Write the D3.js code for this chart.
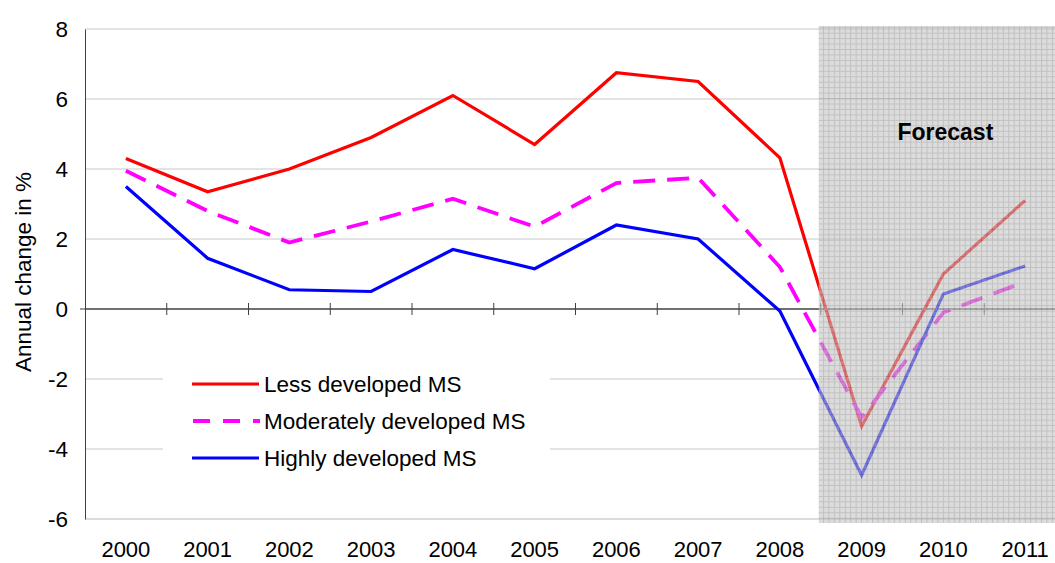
<!DOCTYPE html>
<html lang="en">
<head>
<meta charset="UTF-8">
<title>Annual change in %</title>
<script src="https://d3js.org/d3.v7.min.js"></script>
<style>
    body { margin: 0; background: white; font-family: "Liberation Sans", Arial, sans-serif; }
    svg { display: block; }
    .tick-label { font-size: 22.5px; fill: #000; }
    .legend-text { font-size: 22.5px; fill: #000; }
</style>
</head>
<body>
<svg width="1055" height="563"></svg>
<script>
    const years = ["2000", "2001", "2002", "2003", "2004", "2005", "2006", "2007", "2008", "2009", "2010", "2011"];
    const lessDeveloped = [4.3, 3.35, 4.0, 4.9, 6.1, 4.7, 6.75, 6.5, 4.32, -3.35, 1.0, 3.1];
    const moderatelyDeveloped = [3.95, 2.8, 1.9, 2.5, 3.15, 2.35, 3.6, 3.75, 1.2, -3.1, -0.1, 0.78];
    const highlyDeveloped = [3.5, 1.45, 0.55, 0.5, 1.7, 1.15, 2.4, 2.0, -0.06, -4.75, 0.43, 1.23];
    const yTicks = [-6, -4, -2, 0, 2, 4, 6, 8];
    const forecastFrom = "2009";

    const series = [
        { name: "Less developed MS", values: lessDeveloped, color: "#ff0000", dash: null, w: 3.2 },
        { name: "Moderately developed MS", values: moderatelyDeveloped, color: "#ff00ff", dash: "22,12", w: 3.8 },
        { name: "Highly developed MS", values: highlyDeveloped, color: "#0000ff", dash: null, w: 3.2 }
    ];

    const svg = d3.select("svg");
    const plotLeft = 85, plotTop = 29, plotBottom = 519;
    const band = 81.75;

    const x = d3.scaleBand().domain(years).range([plotLeft, plotLeft + band * years.length]);
    const y = d3.scaleLinear().domain([-6, 8]).range([plotBottom, plotTop]);
    const cx = d => x(d) + x.bandwidth() / 2;

    // pattern for forecast area
    const defs = svg.append("defs");
    const pat = defs.append("pattern")
        .attr("id", "grid")
        .attr("patternUnits", "userSpaceOnUse")
        .attr("width", 5.45).attr("height", 5.45);
    pat.append("rect").attr("width", 5.45).attr("height", 5.45).attr("fill", "#c6c6c6");
    pat.append("path").attr("d", "M0,0.5H5.45M0.5,0V5.45")
        .attr("stroke", "#9a9a9a").attr("stroke-width", 1);

    // gridlines
    svg.append("g")
        .selectAll("line")
        .data(yTicks.filter(d => d !== 0))
        .join("line")
        .attr("x1", plotLeft).attr("x2", 1055)
        .attr("y1", d => y(d)).attr("y2", d => y(d))
        .attr("stroke", d => d === -6 ? "#dcdcdc" : "#c8c8c8")
        .attr("stroke-width", d => d === -6 ? 2 : 1);

    // legend box (covers gridlines)
    const legend = svg.append("g");
    legend.append("rect")
        .attr("x", 163).attr("y", 366).attr("width", 387).attr("height", 106)
        .attr("fill", "white");

    // y axis
    const yAxis = svg.append("g")
        .attr("transform", `translate(${plotLeft},0)`)
        .call(d3.axisLeft(y).tickValues(yTicks).tickSize(0).tickPadding(17).tickFormat(d => String(d)));
    yAxis.select(".domain").attr("stroke", "#404040").attr("stroke-width", 1);
    yAxis.selectAll("text").attr("class", "tick-label");
    yAxis.attr("font-family", null).attr("font-size", null);
    svg.append("line")
        .attr("x1", plotLeft - 5).attr("x2", plotLeft)
        .attr("y1", y(0)).attr("y2", y(0))
        .attr("stroke", "#404040");

    // x axis along zero line
    const xAxis = svg.append("g").attr("transform", `translate(0,${y(0)})`);
    xAxis.append("line")
        .attr("x1", plotLeft).attr("x2", 1055)
        .attr("y1", 0).attr("y2", 0)
        .attr("stroke", "#404040").attr("stroke-width", 1.3);
    xAxis.selectAll("line.tk")
        .data(years.slice(1))
        .join("line")
        .attr("class", "tk")
        .attr("x1", d => x(d)).attr("x2", d => x(d))
        .attr("y1", -6).attr("y2", 6)
        .attr("stroke", "#404040");

    svg.append("g")
        .selectAll("text")
        .data(years)
        .join("text")
        .attr("class", "tick-label")
        .attr("x", d => cx(d))
        .attr("y", 557)
        .attr("text-anchor", "middle")
        .style("font-size", "22px")
        .text(d => d);

    // y axis label
    svg.append("text")
        .attr("transform", `translate(31,${(plotTop + plotBottom) / 2 - 2}) rotate(-90)`)
        .attr("text-anchor", "middle")
        .attr("font-size", 22.5)
        .text("Annual change in %");

    // lines
    const line = d3.line()
        .x((d, i) => cx(years[i]))
        .y(d => y(d));

    svg.append("g")
        .selectAll("path")
        .data(series)
        .join("path")
        .attr("d", d => line(d.values))
        .attr("fill", "none")
        .attr("stroke", d => d.color)
        .attr("stroke-width", d => d.w)
        .attr("stroke-dasharray", d => d.dash)
        .attr("stroke-linejoin", "miter");

    // forecast overlay
    const fx = x(forecastFrom) - 2;
    svg.append("rect")
        .attr("x", fx).attr("y", plotTop - 3)
        .attr("width", 1055 - fx).attr("height", plotBottom - plotTop + 7)
        .attr("fill", "url(#grid)")
        .attr("opacity", 0.62);

    svg.append("text")
        .attr("x", cx("2010") + 2)
        .attr("y", 140)
        .attr("text-anchor", "middle")
        .attr("font-size", 23)
        .attr("font-weight", "bold")
        .text("Forecast");

    // legend
    const rows = legend.selectAll("g.row")
        .data(series)
        .join("g")
        .attr("class", "row")
        .attr("transform", (d, i) => `translate(192,${384 + i * 37})`);
    rows.append("line")
        .attr("x1", 0).attr("x2", 67)
        .attr("stroke", d => d.color)
        .attr("stroke-width", d => d.w)
        .attr("stroke-dasharray", d => d.dash ? "17,13" : null)
        .attr("transform", d => d.dash ? "translate(1,0)" : null);
    rows.append("text")
        .attr("class", "legend-text")
        .attr("x", 72)
        .attr("y", 8)
        .text(d => d.name);
</script>
</body>
</html>
